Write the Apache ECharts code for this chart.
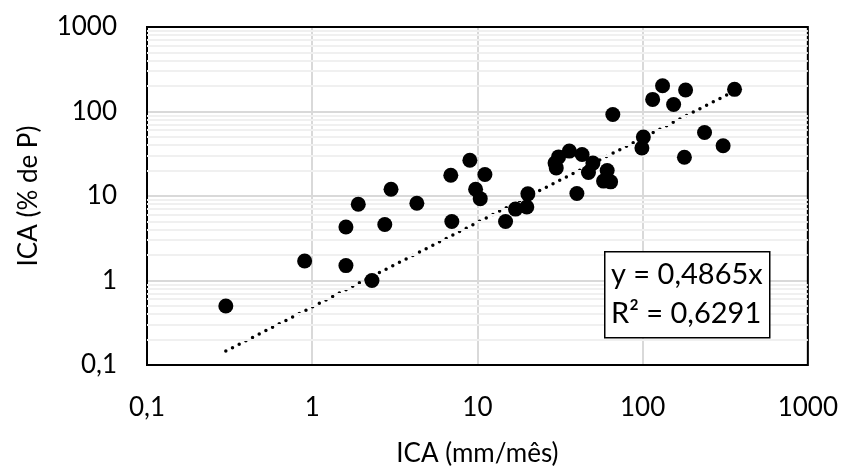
<!DOCTYPE html>
<html>
<head>
<meta charset="utf-8">
<title>ICA</title>
<script src="https://cdn.jsdelivr.net/npm/echarts@6/dist/echarts.min.js"></script>
<style>
  html, body { margin: 0; padding: 0; background: #fff; }
  #main { width: 841px; height: 472px; }
</style>
</head>
<body>
<div id="main"></div>
<script>
    // pontos (ICA mm/mes vs ICA % de P)
    var icaMm = [0.3, 0.9, 1.6, 1.6, 1.9, 2.3, 2.75, 3.0, 4.3, 6.9, 7.0, 9.0, 9.75, 10.4, 11.1,
        14.8, 17, 19.9, 20.2, 29.5, 31, 30, 36, 40, 43, 47, 50, 58, 61, 64, 66,
        99, 101, 115, 132, 154, 179, 182, 237, 307, 360];
    var icaPct = [0.5, 1.7, 1.5, 4.3, 8.0, 1.0, 4.6, 12, 8.2, 17.6, 5.0, 26.5, 12, 9.3, 18,
        5.0, 7.0, 7.4, 10.6, 24.5, 29, 21.5, 34, 10.7, 31, 19, 24.5, 15, 20, 14.7, 92,
        37, 50, 139, 202, 121, 28.8, 180, 56.5, 39.4, 183];
    var trendX = [0.3, 360];
    var trendY = [0.146, 175];
    var tickLabels = ['0,1', '1', '10', '100', '1000'];
    var eqLines = ['y = 0,4865x', 'R² = 0,6291'];

    var font = 'Lato, "Open Sans", sans-serif';
    var pts = icaMm.map(function (x, i) { return [x, icaPct[i]]; });
    var trend = trendX.map(function (x, i) { return [x, trendY[i]]; });

    // linhas de grade secundarias (2..9 em cada decada), como no Excel
    var minor = [];
    [0.1, 1, 10, 100].forEach(function (d) {
        for (var k = 2; k <= 9; k++) minor.push({ yAxis: +(d * k).toPrecision(3) });
    });

    function tickFmt(v) {
        var idx = Math.round(Math.log10(v)) + 1;
        return tickLabels[idx] || '';
    }

    var myChart = echarts.init(document.getElementById('main'));
    var option = {
        animation: false,
        backgroundColor: '#fff',
        grid: {
            left: 147, right: 33, top: 27, bottom: 103,
            show: true, borderColor: '#000', borderWidth: 2, backgroundColor: 'transparent', z: 3
        },
        xAxis: {
            type: 'log', logBase: 10, min: 0.1, max: 1000,
            name: 'ICA (mm/mês)', nameLocation: 'middle', nameGap: 76,
            nameTextStyle: { fontFamily: font, fontSize: 26, color: '#000' },
            axisLine: { show: false }, axisTick: { show: false },
            axisLabel: { formatter: tickFmt, fontFamily: font, fontSize: 26, color: '#000', margin: 30 },
            splitLine: { show: true, lineStyle: { color: '#d9d9d9', width: 2 } }
        },
        yAxis: {
            type: 'log', logBase: 10, min: 0.1, max: 1000,
            name: 'ICA (% de P)', nameLocation: 'middle', nameGap: 105,
            nameTextStyle: { fontFamily: font, fontSize: 26, color: '#000' },
            axisLine: { show: false }, axisTick: { show: false },
            axisLabel: { formatter: tickFmt, fontFamily: font, fontSize: 26, color: '#000', margin: 30 },
            splitLine: { show: true, lineStyle: { color: '#d9d9d9', width: 2 } }
        },
        series: [
            {
                type: 'line', data: [], silent: true, z: 1,
                markLine: {
                    silent: true, symbol: 'none', label: { show: false },
                    lineStyle: { color: '#f0f0f0', width: 2, type: 'solid' },
                    data: minor, animation: false
                }
            },
            {
                type: 'line', data: trend, showSymbol: false, symbol: 'none', z: 4,
                lineStyle: { color: '#000', width: 3.5, type: [0, 7.5], cap: 'round' }
            },
            {
                type: 'scatter', data: pts, symbol: 'circle', symbolSize: 15, z: 5,
                itemStyle: { color: '#000', opacity: 1 }
            }
        ],
        graphic: [
            {
                type: 'rect', left: 604, top: 251, z: 10,
                shape: { width: 165, height: 86 },
                style: { fill: '#fff', stroke: '#000', lineWidth: 1.5 }
            },
            {
                type: 'text', left: 611, top: 255, z: 11,
                style: { text: eqLines.join('\n'), font: '29px ' + font, fill: '#000', lineHeight: 39 }
            }
        ]
    };
    myChart.setOption(option);
</script>
</body>
</html>
